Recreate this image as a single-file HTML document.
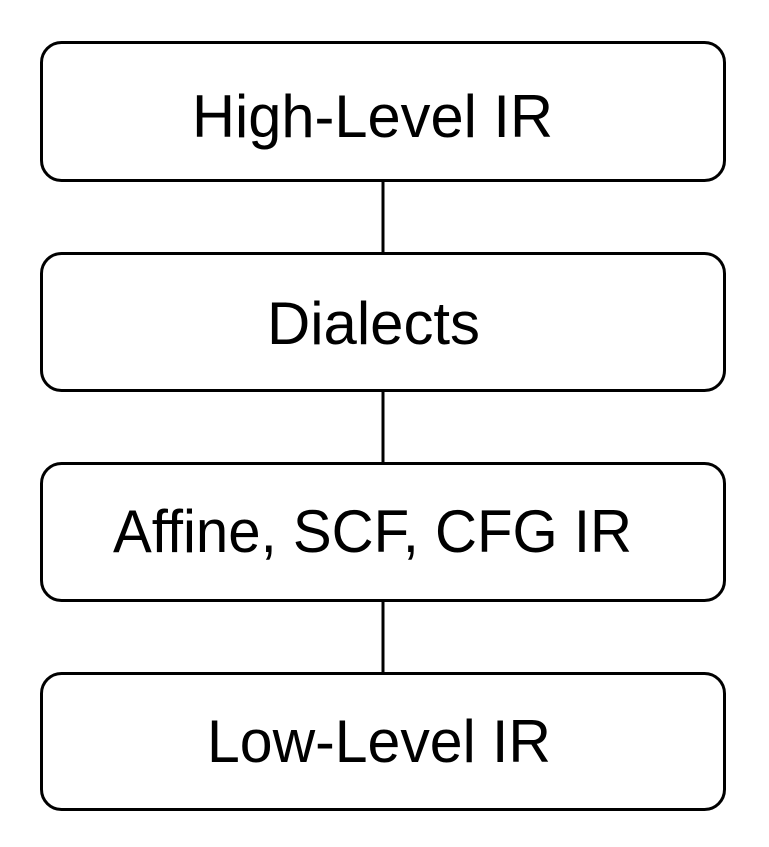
<!DOCTYPE html>
<html><head><style>
html,body{margin:0;padding:0;background:#fff;width:769px;height:847px;overflow:hidden}
</style></head><body>
<svg width="769" height="847" viewBox="0 0 769 847" xmlns="http://www.w3.org/2000/svg">
<g fill="none" stroke="#000" stroke-width="3">
<rect x="41.5" y="42.5" width="683" height="138" rx="20"/>
<rect x="41.5" y="253.5" width="683" height="137" rx="20"/>
<rect x="41.5" y="463.5" width="683" height="137" rx="20"/>
<rect x="41.5" y="673.5" width="683" height="136" rx="20"/>
<line x1="383" y1="181" x2="383" y2="253"/>
<line x1="383" y1="391" x2="383" y2="463"/>
<line x1="383" y1="601" x2="383" y2="673"/>
</g>
<g font-family="Liberation Sans, sans-serif" font-size="60" text-anchor="middle" fill="#000">
<text x="372.5" y="137" textLength="361" lengthAdjust="spacingAndGlyphs">High-Level IR</text>
<text x="373.5" y="344" textLength="213" lengthAdjust="spacingAndGlyphs">Dialects</text>
<text x="372.5" y="552" textLength="519" lengthAdjust="spacingAndGlyphs">Affine, SCF, CFG IR</text>
<text x="379" y="762" textLength="344" lengthAdjust="spacingAndGlyphs">Low-Level IR</text>
</g>
</svg>
</body></html>
